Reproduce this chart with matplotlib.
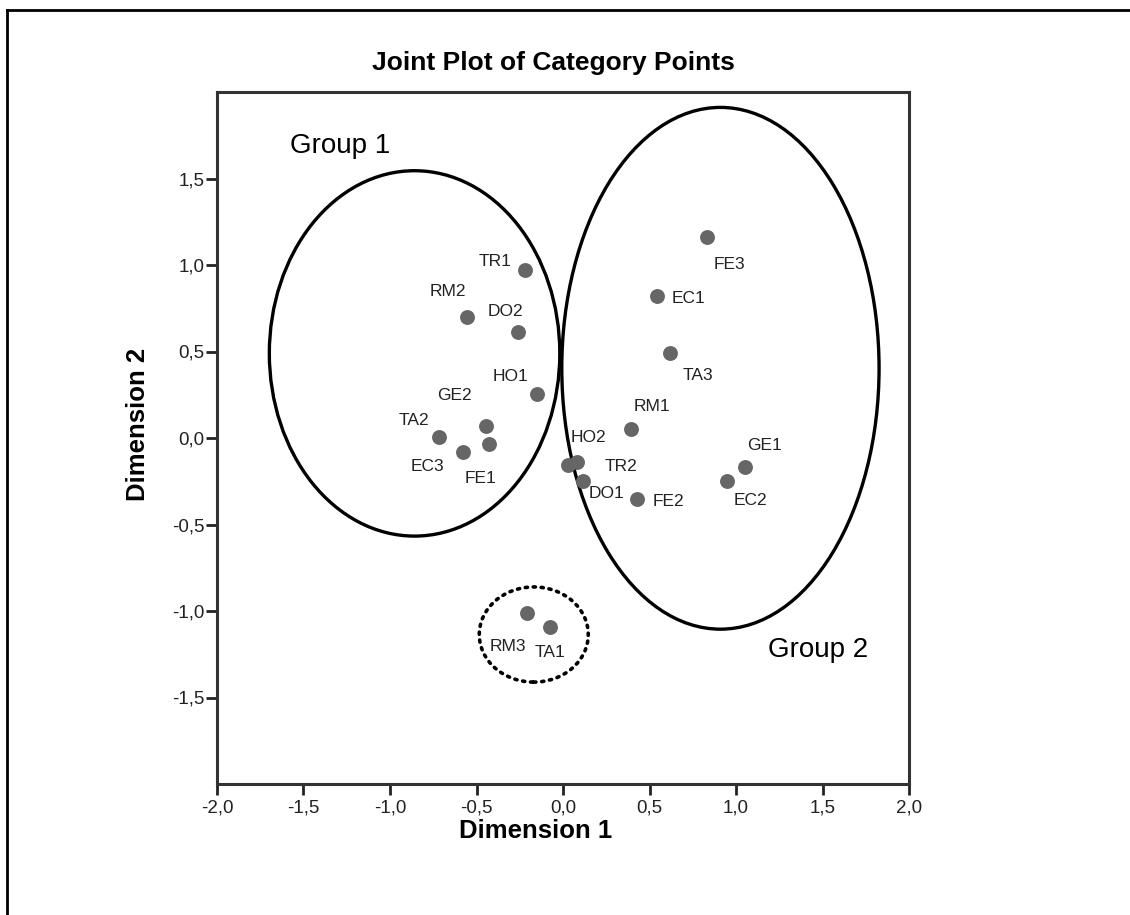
import matplotlib
matplotlib.use('Agg')
import matplotlib.pyplot as plt
from matplotlib.patches import Ellipse
from matplotlib.lines import Line2D
from matplotlib.ticker import FuncFormatter

# category points (dimension 1, dimension 2)
labels = ['TR1', 'RM2', 'DO2', 'HO1', 'GE2', 'FE1', 'TA2', 'EC3',
          'FE3', 'EC1', 'TA3', 'RM1', 'HO2', 'TR2', 'DO1', 'FE2', 'GE1', 'EC2',
          'RM3', 'TA1']
dim1 = [-0.220, -0.553, -0.258, -0.149, -0.445, -0.426, -0.715, -0.576,
        0.831, 0.545, 0.618, 0.391, 0.083, 0.031, 0.113, 0.426, 1.050, 0.950,
        -0.206, -0.075]
dim2 = [0.973, 0.699, 0.610, 0.253, 0.071, -0.036, 0.004, -0.083,
        1.160, 0.818, 0.490, 0.050, -0.137, -0.156, -0.249, -0.353, -0.170, -0.247,
        -1.012, -1.093]

x_ticks = [-2.0, -1.5, -1.0, -0.5, 0.0, 0.5, 1.0, 1.5, 2.0]
y_ticks = [-1.5, -1.0, -0.5, 0.0, 0.5, 1.0, 1.5]

if __name__ == '__main__':
    plt.rcParams['font.family'] = ['Liberation Sans', 'DejaVu Sans']

    # label offsets in pixels (dx, dy up)
    label_offsets = [(-30, 8), (-19, 26), (-13, 21), (-27, 18), (-32, 30), (-9, -34),
                     (-25, 17), (-36, -14),
                     (23, -27), (31, -2), (28, -22), (21, 23), (11, 24), (53, -2),
                     (24, -12), (32, -2), (20, 22), (23, -20),
                     (-19, -33), (0, -25)]

    fig = plt.figure(figsize=(11.3, 9.15), dpi=100)
    ax = fig.add_axes([217 / 1130, 1 - 784 / 915, 692 / 1130, 692 / 915])

    ax.scatter(dim1, dim2, s=115, color='#666666', zorder=3, linewidths=0)
    for name, x, y, off in zip(labels, dim1, dim2, label_offsets):
        ax.annotate(name, (x, y), xytext=off, textcoords='offset pixels',
                    ha='center', va='center', fontsize=12.5, color='#222222')

    # groups
    ax.add_patch(Ellipse((-0.858, 0.489), 1.679, 2.112, fill=False,
                         edgecolor='black', linewidth=2.4))
    ax.add_patch(Ellipse((0.910, 0.403), 1.834, 3.016, fill=False,
                         edgecolor='black', linewidth=2.4))
    ax.add_patch(Ellipse((-0.169, -1.136), 0.630, 0.550, fill=False,
                         edgecolor='black', linewidth=2.6, linestyle=(0, (0.6, 1.6)),
                         capstyle='round'))
    ax.text(-1.289, 1.685, 'Group 1', fontsize=20, ha='center', va='center')
    ax.text(1.474, -1.228, 'Group 2', fontsize=20, ha='center', va='center')

    ax.set_xlim(-2.0, 2.0)
    ax.set_ylim(-2.0, 2.0)
    ax.set_xticks(x_ticks)
    ax.set_yticks(y_ticks)
    fmt = FuncFormatter(lambda v, pos: f'{v:.1f}'.replace('.', ','))
    ax.xaxis.set_major_formatter(fmt)
    ax.yaxis.set_major_formatter(fmt)
    ax.tick_params(direction='out', length=8, width=2, labelsize=13.5,
                   colors='#222222', pad=1)
    ax.tick_params(axis='x', pad=3)
    for sp in ax.spines.values():
        sp.set_linewidth(2.2)
        sp.set_color('#333333')

    ax.set_title('Joint Plot of Category Points', fontsize=19, fontweight='bold',
                 pad=16, x=0.486)
    ax.set_xlabel('Dimension 1', fontsize=18.5, fontweight='bold')
    ax.xaxis.set_label_coords(0.461, -0.051)
    ax.set_ylabel('Dimension 2', fontsize=18.5, fontweight='bold')
    ax.yaxis.set_label_coords(-0.097, 0.52)

    # outer frame (only top and left visible)
    x0, y1 = 7 / 1130, 1 - 10 / 915
    fig.add_artist(Line2D([x0, x0], [-0.02, y1], color='black', linewidth=2))
    fig.add_artist(Line2D([x0, 1.02], [y1, y1], color='black', linewidth=2))

    fig.savefig('out.png', dpi=100, facecolor='white')
